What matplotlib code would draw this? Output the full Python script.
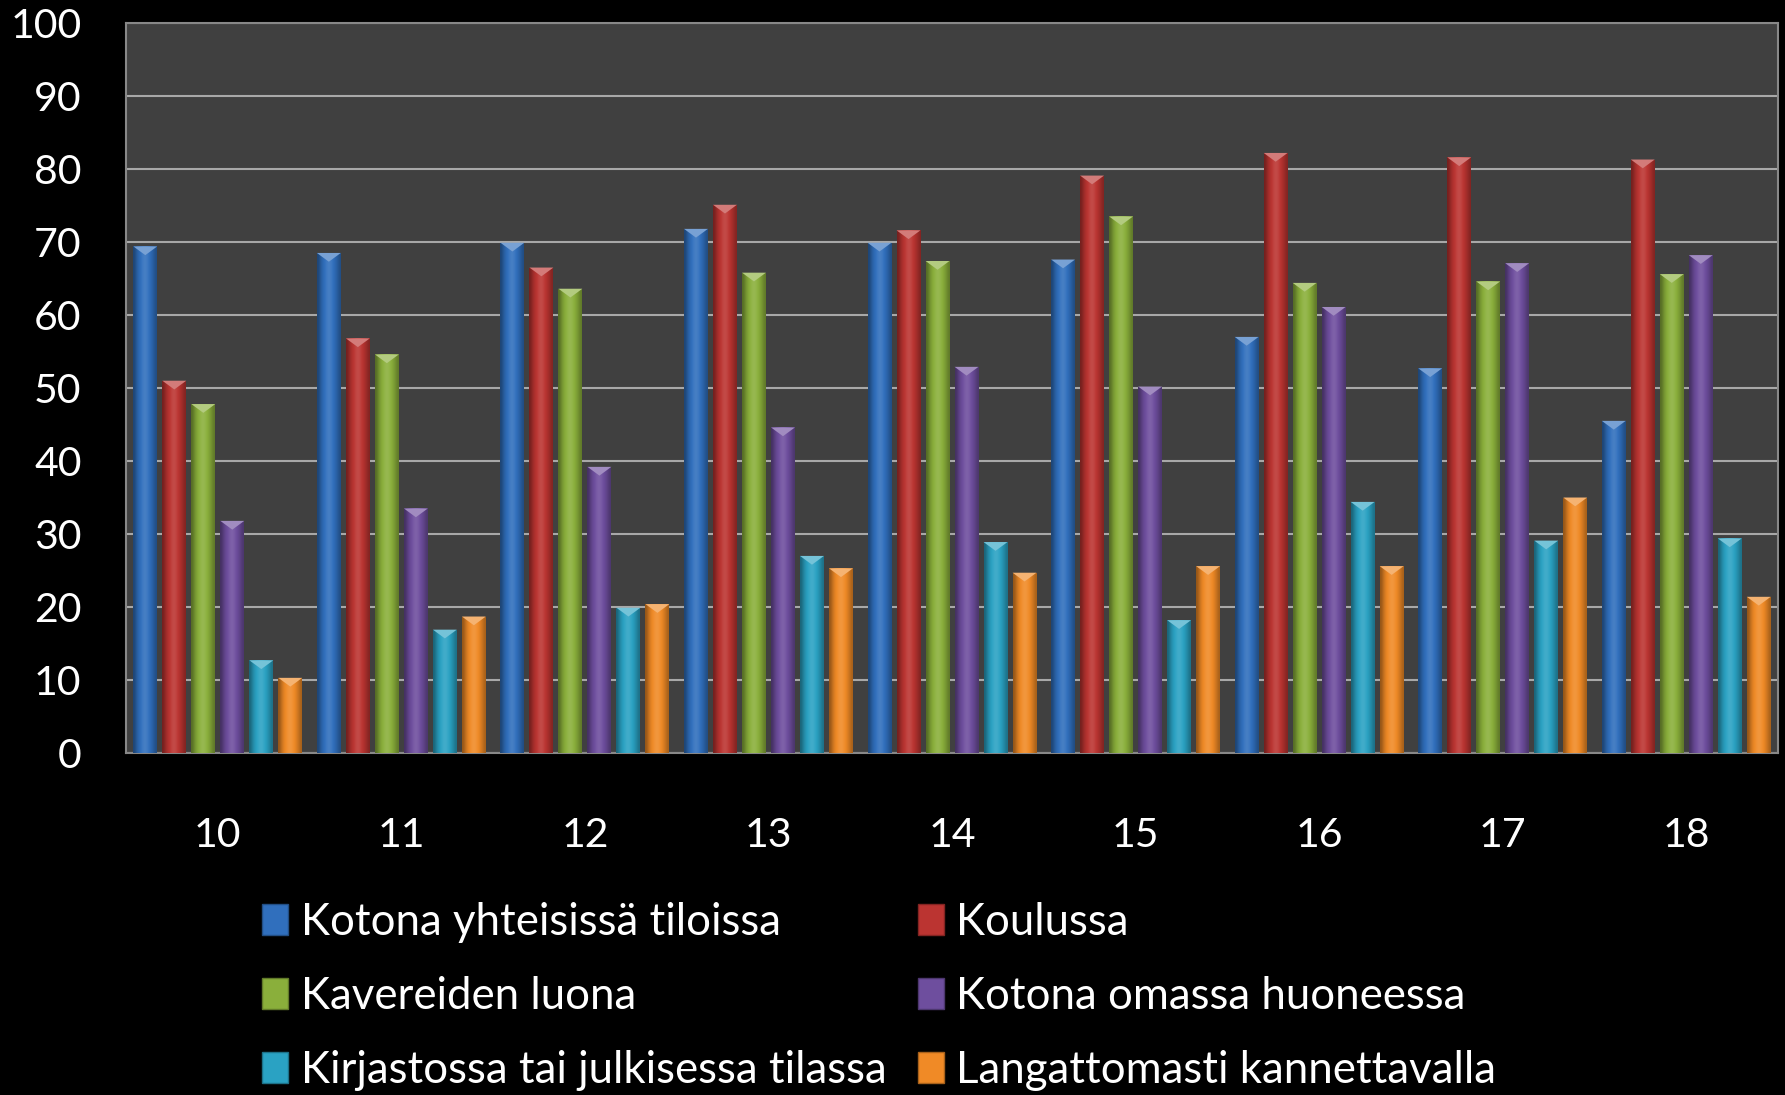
import numpy as np
import matplotlib.pyplot as plt
from matplotlib.patches import Patch
from matplotlib.colors import to_rgb

# ----------------------------
# Data
# ----------------------------
ages = ['10', '11', '12', '13', '14', '15', '16', '17', '18']

kotona_yhteisissa = [69.4, 68.5, 69.9, 71.8, 69.9, 67.6, 57.0, 52.7, 45.5]
koulussa = [51.0, 56.8, 66.5, 75.1, 71.6, 79.1, 82.2, 81.6, 81.3]
kavereiden_luona = [47.8, 54.6, 63.6, 65.8, 67.4, 73.5, 64.4, 64.6, 65.6]
kotona_omassa = [31.8, 33.5, 39.2, 44.6, 52.9, 50.2, 61.1, 67.1, 68.2]
kirjastossa = [12.7, 16.9, 19.9, 27.0, 28.9, 18.2, 34.4, 29.1, 29.4]
langattomasti = [10.3, 18.7, 20.4, 25.3, 24.7, 25.6, 25.6, 35.0, 21.4]

series_labels = ['Kotona yhteisissä tiloissa', 'Koulussa',
                 'Kavereiden luona', 'Kotona omassa huoneessa',
                 'Kirjastossa tai julkisessa tilassa', 'Langattomasti kannettavalla']
series_values = [kotona_yhteisissa, koulussa, kavereiden_luona,
                 kotona_omassa, kirjastossa, langattomasti]
colors = ['#306fbd', '#bb3431', '#8aaf3b', '#6e4e9e', '#2aa2c3', '#f08a26']

plt.rcParams['font.family'] = ['Lato', 'DejaVu Sans']

fig = plt.figure(figsize=(17.85, 10.95), dpi=100, facecolor='black')
ax = fig.add_axes([0.0706, 0.3123, 0.9255, 0.6667])
ax.set_facecolor('#404040')

x = np.arange(len(ages))
pitch = 0.158
width = 0.13


def shade(color, f):
    r, g, b = to_rgb(color)
    if f < 1:
        return (r * f, g * f, b * f)
    return tuple(min(1, c + (1 - c) * (f - 1)) for c in (r, g, b))


# cylinder-like horizontal shading profile across a bar
profile = np.array([0.62, 0.78, 0.92, 1.0, 1.08, 1.12, 1.08, 1.0, 0.92, 0.82, 0.7])

for i, (vals, col) in enumerate(zip(series_values, colors)):
    offs = x + (i - 2.5) * pitch
    bars = ax.bar(offs, vals, width, color=col, zorder=3, linewidth=0)
    grad = np.array([[shade(col, f) for f in profile]])
    for b in bars:
        x0, y0 = b.get_x(), b.get_y()
        w, h = b.get_width(), b.get_height()
        im = ax.imshow(grad, extent=(x0, x0 + w, y0, y0 + h), aspect='auto',
                       interpolation='bicubic', zorder=4)
        im.set_clip_path(b)
        # small bevelled cap at the top
        ax.fill([x0, x0 + w, x0 + w / 2], [y0 + h, y0 + h, y0 + h - 1.2],
                color=shade(col, 1.35), zorder=5, linewidth=0)

ax.set_xlim(-0.5, len(ages) - 0.5)
ax.set_ylim(0, 100)
ax.set_yticks(range(0, 101, 10))
ax.set_xticks(x)
ax.set_xticklabels(ages)
ax.yaxis.grid(True, color='#a8a8a8', linewidth=1.5, zorder=1)
ax.set_axisbelow(True)
for s in ax.spines.values():
    s.set_color('#888888')
    s.set_linewidth(1.5)
ax.tick_params(axis='x', length=0, pad=46, labelsize=29.5, labelcolor='white')
ax.tick_params(axis='y', length=0, pad=32, labelsize=29.5, labelcolor='white')

# legend is filled row by row in the original, matplotlib fills by column
order = [0, 2, 4, 1, 3, 5]
handles = [Patch(facecolor=colors[k], edgecolor=shade(colors[k], 0.7)) for k in order]
labels = [series_labels[k] for k in order]
fig.legend(handles, labels, ncol=2, loc='upper left',
           bbox_to_anchor=(0.1468, 0.1766), frameon=False, fontsize=31.5,
           labelcolor='white', handlelength=0.6, handleheight=0.7,
           handletextpad=0.28, columnspacing=0.72, labelspacing=0.76,
           borderpad=0, borderaxespad=0)

fig.savefig('out.png', dpi=100, facecolor='black')
